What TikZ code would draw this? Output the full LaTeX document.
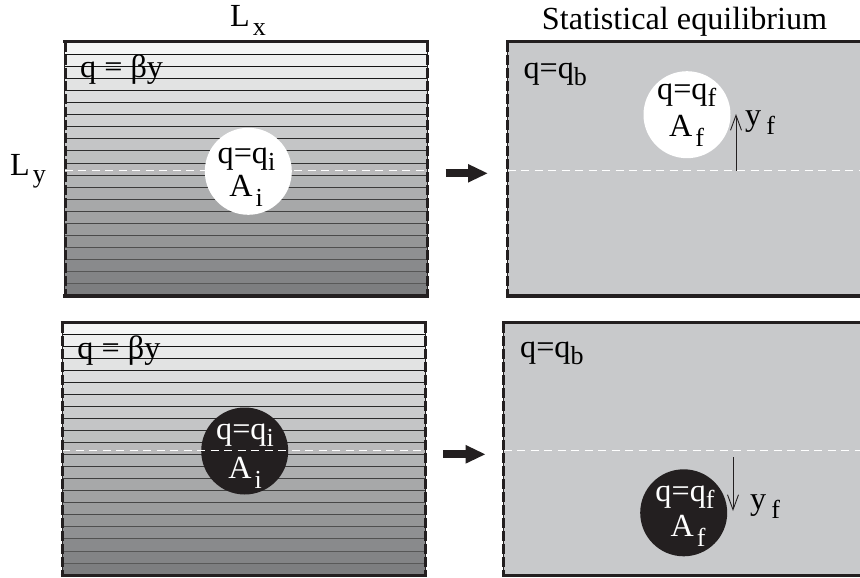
\documentclass[tikz,border=0pt]{standalone}
\usepackage{fontspec}
\setmainfont{Liberation Serif}
\usetikzlibrary{arrows.meta}
\definecolor{ink}{HTML}{231F20}
\definecolor{striptop}{HTML}{F4F5F5}
\definecolor{stripbot}{HTML}{7D7E80}
\definecolor{eqgray}{HTML}{C8C9CB}
\newcommand\subsc[2][-9bp]{\raisebox{#1}{\fontsize{26bp}{26bp}\selectfont #2}}
\newcommand\stripepanel[4]{%
  \pgfmathsetmacro\hstep{(#4-#2)/21}
  \foreach \i in {0,...,20}{%
    \pgfmathtruncatemacro\p{100-5*\i}
    \fill[striptop!\p!stripbot] (#1,{#2+\i*\hstep}) rectangle (#3,{#2+(\i+1)*\hstep+0.2});
  }
  \foreach \i in {1,...,20}{%
    \pgfmathtruncatemacro\q{95-1.5*\i}
    \draw[sepline, draw=black!\q] (#1,{#2+\i*\hstep}) -- (#3,{#2+\i*\hstep});
  }
}
\begin{document}
\begin{tikzpicture}[x=1bp,y=-1bp,
  lbl/.style={font=\fontsize{32.2bp}{36bp}\selectfont, inner sep=0, anchor=base west, text=black},
  clbl/.style={font=\fontsize{32.2bp}{36bp}\selectfont, inner sep=0, anchor=base},
  wall/.style={line width=3.5bp, draw=ink},
  period/.style={line width=3bp, draw=ink, dash pattern=on 10bp off 3bp},
  periodthin/.style={line width=1bp, draw=ink},
  midline/.style={draw=white, line width=1bp, dash pattern=on 8bp off 5.5bp},
  sepline/.style={line width=0.9bp},
  bigarrow/.style={line width=8bp, draw=ink, -{Triangle[length=20bp,width=17bp]}},
  disp/.style={line width=0.9bp, draw=ink, -{Straight Barb[length=15bp,width=11bp]}},
  blob/.style={circle, minimum size=87bp, inner sep=0},
]
\clip (0,0) rectangle (860,578);
\fill[white] (0,0) rectangle (860,578);

% ---- panels: fills
\stripepanel{64.5}{42}{427.5}{296}
\stripepanel{62}{322.5}{425}{575}
\fill[eqgray] (507.5,42) rectangle (862,296);
\fill[eqgray] (503.5,322.5) rectangle (862,575);

% ---- blobs
\node[blob, fill=white] (ci1) at (248.3,171.3) {};
\node[blob, fill=white] (cf1) at (687,114.7) {};
\node[blob, fill=ink] (ci2) at (244.7,451) {};
\node[blob, fill=ink] (cf2) at (683.7,512.8) {};

% ---- mid lines
\draw[midline] (64.5,170.7) -- (427.5,170.7);
\draw[midline] (507.5,170.7) -- (862,170.7);
\draw[midline] (62,450.7) -- (425,450.7);
\draw[midline] (503.5,450.7) -- (862,450.7);

% ---- walls (y) and periodic edges (x)
\draw[wall] (63,41.3) -- (429,41.3);
\draw[wall] (63,296) -- (429,296);
\draw[wall] (506,41.3) -- (862,41.3);
\draw[wall] (506,296) -- (862,296);
\draw[wall] (60.5,322.3) -- (426.5,322.3);
\draw[wall] (60.5,575.5) -- (426.5,575.5);
\draw[wall] (502,322.3) -- (862,322.3);
\draw[wall] (502,575.5) -- (862,575.5);

\draw[periodthin] (64.5,42) -- (64.5,296);
\draw[period] (65,42) -- (65,296);
\draw[periodthin] (427.5,42) -- (427.5,296);
\draw[period] (427.5,42) -- (427.5,296);
\draw[periodthin] (507.5,42) -- (507.5,296);
\draw[period] (507.5,42) -- (507.5,296);
\draw[periodthin] (62,322.5) -- (62,575);
\draw[period] (62.5,322.5) -- (62.5,575);
\draw[periodthin] (425,322.5) -- (425,575);
\draw[period] (425,322.5) -- (425,575);
\draw[periodthin] (503.5,322.5) -- (503.5,575);
\draw[period] (503.5,322.5) -- (503.5,575);

% ---- big arrows
\coordinate (a0) at (445.7,173.3);
\coordinate (a1) at (488,173.3);
\coordinate (b0) at (443.3,454.3);
\coordinate (b1) at (485.7,454.3);
\draw[bigarrow] (a0) -- (a1);
\draw[bigarrow] (b0) -- (b1);

% ---- displacement arrows
\coordinate (u0) at (736,170.7);
\coordinate (u1) at (736,114);
\coordinate (d0) at (733,457.3);
\coordinate (d1) at (733,511);
\draw[disp] (u0) -- (u1);
\draw[disp] (d0) -- (d1);

% ---- labels
\node[lbl] (Lx) at (230,26.7) {L\hspace{3bp}\subsc{x}};
\node[lbl] (stat) at (541.7,30) {Statistical equilibrium};
\node[lbl] (Ly) at (10,176) {L\hspace{3bp}\subsc[-7bp]{y}};
\node[lbl] (qb1) at (80,78) {q = βy};
\node[lbl] (qb2) at (77.3,358) {q = βy};
\node[lbl] (qq1) at (523.3,78.3) {q=q\subsc[-7bp]{b}};
\node[lbl] (qq2) at (520,357) {q=q\subsc[-7bp]{b}};

\node[clbl] (ti1) at (246.5,163.3) {q=q\subsc[-7bp]{i}};
\node[clbl] (ta1) at (246,196.7) {A\hspace{3bp}\subsc[-10bp]{i}};
\node[clbl] (tf1) at (686.7,100) {q=q\subsc[-7bp]{f}};
\node[clbl] (tb1) at (686.5,136.7) {A\hspace{3bp}\subsc[-10bp]{f}};
\node[clbl, text=white] (ti2) at (245,439.7) {q=q\subsc[-7bp]{i}};
\node[clbl, text=white] (ta2) at (245,478) {A\hspace{3bp}\subsc[-10bp]{i}};
\node[clbl, text=white] (tf2) at (685,501.3) {q=q\subsc[-7bp]{f}};
\node[clbl, text=white] (tb2) at (688,536.3) {A\hspace{3bp}\subsc[-10bp]{f}};

\node[lbl] (yf1) at (745,126) {y\hspace{5bp}\subsc{f}};
\node[lbl] (yf2) at (750,509.7) {y\hspace{5bp}\subsc{f}};
\end{tikzpicture}
\end{document}
